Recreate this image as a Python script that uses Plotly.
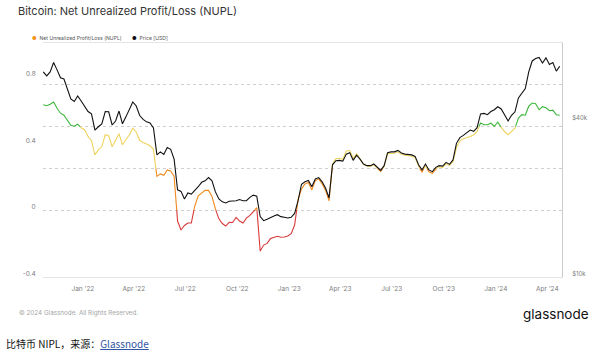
import math
import pandas as pd
import plotly.graph_objects as go

# ---------------- data ----------------
dates = pd.date_range("2021-10-23", "2024-04-23", periods=151)

price_usd = [61900, 59700, 61900, 67300, 63000, 58700, 58100, 52700, 48700, 47600,
             50000, 47800, 45500, 43500, 42600, 36900, 38000, 39000, 43500, 43400,
             38600, 40000, 43700, 39000, 41500, 44100, 47400, 45700, 42000, 40600,
             39700, 39300, 37600, 29600, 30400, 29700, 31600, 31100, 28500, 21700,
             21400, 20000, 21100, 20900, 21500, 22300, 23200, 23500, 24200, 23500,
             21300, 20000, 19500, 19300, 19600, 19600, 19700, 19900, 19700, 19700,
             20300, 20700, 20500, 17100, 16500, 16700, 17000, 17200, 17400, 17100,
             17000, 16900, 17000, 17600, 19700, 22800, 23300, 23600, 22300, 23900,
             24200, 23300, 22000, 20200, 27100, 28100, 28200, 28000, 29800, 30200,
             28200, 29500, 28500, 27300, 26900, 26900, 27300, 26500, 25800, 26900,
             30200, 30400, 30400, 30800, 30100, 29800, 29700, 29600, 29200, 27100,
             25900, 27300, 25900, 25500, 26500, 26900, 26800, 27700, 27200, 28300,
             32800, 34500, 35200, 36200, 36900, 36500, 37700, 42600, 42800, 42300,
             43500, 44200, 45400, 44500, 41900, 40000, 42100, 43400, 49100, 51300,
             53400, 61900, 68200, 69700, 70400, 67000, 70100, 66100, 67300, 62300,
             65100]

nupl = [0.631, 0.625, 0.634, 0.647, 0.610, 0.580, 0.568, 0.535, 0.508, 0.502,
        0.514, 0.493, 0.481, 0.441, 0.415, 0.331, 0.361, 0.379, 0.451, 0.445,
        0.379, 0.415, 0.457, 0.391, 0.421, 0.451, 0.490, 0.466, 0.418, 0.404,
        0.396, 0.385, 0.364, 0.202, 0.217, 0.209, 0.241, 0.235, 0.202, -0.065,
        -0.119, -0.092, -0.077, -0.077, 0.025, 0.085, 0.100, 0.118, 0.118, 0.082,
        0.007, -0.052, -0.080, -0.095, -0.073, -0.074, -0.043, -0.065, -0.077, -0.048,
        -0.031, -0.013, 0.016, -0.245, -0.209, -0.199, -0.170, -0.162, -0.156, -0.162,
        -0.161, -0.155, -0.141, -0.089, 0.061, 0.127, 0.157, 0.166, 0.121, 0.175,
        0.187, 0.157, 0.118, 0.055, 0.277, 0.307, 0.310, 0.304, 0.352, 0.358,
        0.310, 0.337, 0.307, 0.274, 0.265, 0.262, 0.271, 0.250, 0.232, 0.262,
        0.337, 0.340, 0.340, 0.349, 0.334, 0.328, 0.325, 0.322, 0.313, 0.259,
        0.229, 0.265, 0.229, 0.220, 0.247, 0.259, 0.256, 0.277, 0.268, 0.289,
        0.373, 0.415, 0.427, 0.433, 0.441, 0.451, 0.471, 0.521, 0.511, 0.511,
        0.520, 0.502, 0.526, 0.496, 0.469, 0.451, 0.470, 0.490, 0.551, 0.571,
        0.568, 0.622, 0.641, 0.637, 0.601, 0.619, 0.612, 0.595, 0.598, 0.571,
        0.568]

nupl_tick_vals = [-0.4, 0, 0.4, 0.8]
nupl_tick_text = ["-0.4", "0", "0.4", "0.8"]
nupl_zone_edges = [0, 0.25, 0.5]          # colour change thresholds
nupl_grid_vals = [0, 0.25, 0.5, 0.75]     # dotted grid lines
price_tick_vals = [10000, 40000]
price_tick_text = ["$10k", "$40k"]
month_ticks = pd.date_range("2022-01-01", "2024-04-01", freq="QS")

# ---------------- styling ----------------
W, H = 600, 355
L, R, T, B = 43, 31, 43, 78
zone_colors = ["#d93b3b", "#f08a1e", "#efd35f", "#3db83d"]   # red, orange, yellow, green
FONT = "Inter"


def zone_of(v):
    z = 0
    for e in nupl_zone_edges:
        if v >= e:
            z += 1
    return z


# split the NUPL line into runs coloured by zone
runs = []
for k in range(len(dates) - 1):
    t0, t1 = dates[k], dates[k + 1]
    v0, v1 = nupl[k], nupl[k + 1]
    fr = [0.0, 1.0]
    for c in nupl_zone_edges:
        if (v0 - c) * (v1 - c) < 0:
            fr.append((c - v0) / (v1 - v0))
    fr.sort()
    for a, b in zip(fr[:-1], fr[1:]):
        va = v0 + (v1 - v0) * a
        vb = v0 + (v1 - v0) * b
        ta = t0 + (t1 - t0) * a
        tb = t0 + (t1 - t0) * b
        z = zone_of((va + vb) / 2)
        if runs and runs[-1][0] == z:
            runs[-1][1].append(tb)
            runs[-1][2].append(vb)
        else:
            runs.append([z, [ta, tb], [va, vb]])

fig = go.Figure()
for z in range(4):
    xs, ys = [], []
    for rz, rx, ry in runs:
        if rz == z:
            xs += rx + [None]
            ys += ry + [None]
    fig.add_trace(go.Scatter(x=xs, y=ys, mode="lines",
                             line=dict(color=zone_colors[z], width=1.1),
                             yaxis="y", hoverinfo="skip", showlegend=False))

fig.add_trace(go.Scatter(x=dates, y=price_usd, mode="lines",
                         line=dict(color="#111111", width=1.1),
                         yaxis="y2", showlegend=False))

tickfont = dict(family=FONT, size=6.5, color="#7c7c7c")
rtickfont = dict(family=FONT, size=6, color="#7c7c7c")

fig.update_layout(
    width=W, height=H,
    margin=dict(l=L, r=R, t=T, b=B, pad=0),
    paper_bgcolor="white", plot_bgcolor="white",
    showlegend=False,
    xaxis=dict(type="date", range=["2021-10-22 12:00", "2024-04-27"],
               tickvals=month_ticks, tickformat="%b '%y",
               showgrid=False, zeroline=False,
               showline=True, linecolor="#e4e4e4", linewidth=1, mirror=True,
               ticks="outside", ticklen=5, tickcolor="rgba(0,0,0,0)",
               tickfont=tickfont),
    yaxis=dict(range=[-0.4, 1.0], tickvals=nupl_tick_vals, ticktext=nupl_tick_text,
               showgrid=False, zeroline=False, showline=False,
               ticks="outside", ticklen=5, tickcolor="rgba(0,0,0,0)",
               ticklabelshift=-3, tickfont=tickfont,
               minor=dict(tickvals=nupl_grid_vals, showgrid=True, griddash="dot",
                          gridcolor="#cfcfcf", gridwidth=1)),
    yaxis2=dict(type="log", range=[4, math.log10(80000)], overlaying="y", side="right",
                tickvals=price_tick_vals, ticktext=price_tick_text,
                showgrid=False, zeroline=False,
                showline=True, linecolor="#cccccc", linewidth=1,
                ticks="outside", ticklen=8, tickcolor="rgba(0,0,0,0)",
                ticklabelshift=-3, tickfont=rtickfont),
)


def px(x):
    return (x - L) / (W - L - R)


def py(y):
    return (H - B - y) / (H - T - B)


def note(text, x, y, size, color, xanchor="left", family=FONT, weight=None):
    f = dict(family=family, size=size, color=color)
    if weight:
        f["weight"] = weight
    fig.add_annotation(text=text, x=px(x), y=py(y), xref="paper", yref="paper",
                       xanchor=xanchor, yanchor="middle", showarrow=False, font=f)


note("Bitcoin: Net Unrealized Profit/Loss (NUPL)", 16, 11, 11, "#333333")
note("<span style='color:#f7931a'>●</span>  Net Unrealized Profit/Loss (NUPL)", 30, 38, 5.1, "#555555")
note("<span style='color:#111111'>●</span>  Price [USD]", 131, 38, 5.1, "#555555")
note("© 2024 Glassnode. All Rights Reserved.", 17, 313, 6.3, "#a5a5a5")
note("glassnode", 598, 314, 13.5, "#111111", xanchor="right", weight=400)
note("比特币 NIPL，来源：<span style='color:#2f55a4;text-decoration:underline'>Glassnode</span>",
     3, 343, 10, "#111111", family="Noto Sans CJK SC")

fig.write_html("out.html", config={"displayModeBar": False},
               post_script="document.body.style.margin='0';document.body.style.padding='0';")
